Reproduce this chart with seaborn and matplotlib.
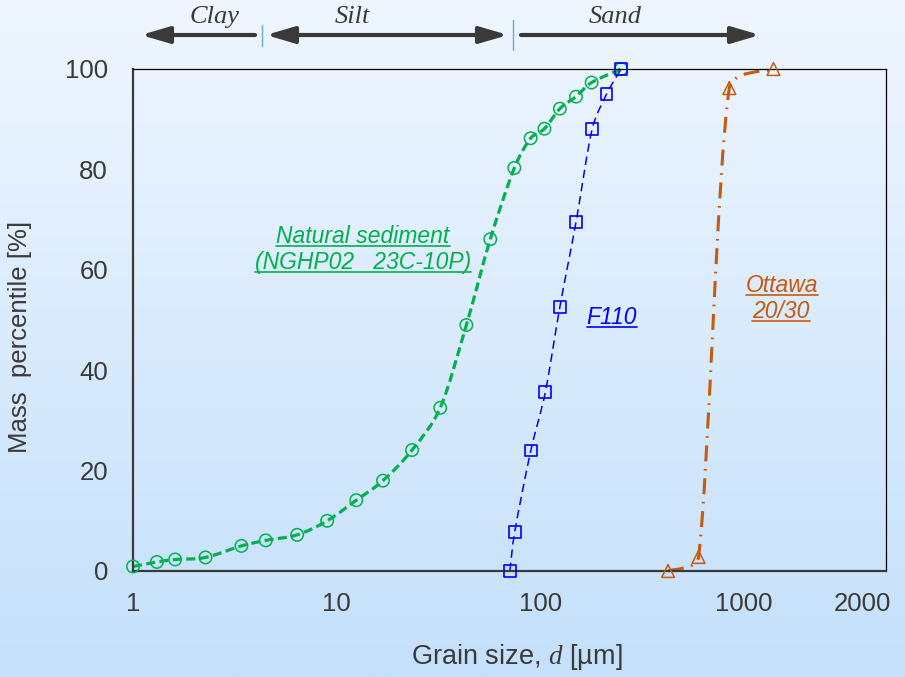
import numpy as np
import matplotlib
matplotlib.use("Agg")
import matplotlib.pyplot as plt
from matplotlib.path import Path
from matplotlib.patches import PathPatch, FancyArrowPatch
from matplotlib.lines import Line2D
from matplotlib.ticker import LogLocator, NullFormatter, FixedLocator
import seaborn as sns

# ---- data: cumulative grain-size distributions ----
natural_d = [1.0, 1.31, 1.61, 2.27, 3.41, 4.49, 6.40, 8.99, 12.5, 16.9, 23.5,
             32.3, 43.4, 56.9, 74.7, 89.8, 105, 125, 150, 179, 250]
natural_pct = [0.9, 1.8, 2.3, 2.7, 5.0, 6.1, 7.2, 10.0, 14.1, 18.0, 24.1,
               32.5, 49.0, 66.1, 80.3, 86.2, 88.1, 92.1, 94.5, 97.3, 100.0]

f110_d = [71, 75, 90, 106, 125, 150, 180, 212, 250]
f110_pct = [0.0, 7.8, 24.0, 35.6, 52.6, 69.5, 88.0, 95.0, 100.0]

ottawa_d = [425, 600, 850, 1400]
ottawa_pct = [0.0, 2.8, 96.2, 100.0]

x_ticks = [1, 10, 100, 1000]
x_tick_labels = ["1", "10", "100", "1000"]
extra_x_label = ("2000", 3850)
y_ticks = [0, 20, 40, 60, 80, 100]

GREEN = "#00b050"
BLUE = "#0000ff"
ORANGE = "#c55a11"
DARK = "#3a3a3a"

sns.set_style("white")
plt.rcParams["font.family"] = ["Liberation Sans", "DejaVu Sans"]
plt.rcParams["mathtext.fontset"] = "custom"
plt.rcParams["mathtext.rm"] = "Liberation Sans"
plt.rcParams["mathtext.it"] = "Liberation Serif:italic"
plt.rcParams["lines.scale_dashes"] = False

W, H = 905, 677
fig = plt.figure(figsize=(W / 100, H / 100), dpi=100)

# vertical gradient behind everything
bg = fig.add_axes([0, 0, 1, 1], zorder=-10)
top_c = np.array([239, 246, 255]) / 255
bot_c = np.array([196, 224, 251]) / 255
t = np.linspace(0, 1, 256)[:, None]
grad = (top_c * (1 - t) + bot_c * t)[:, None, :]
bg.imshow(grad, aspect="auto", extent=[0, 1, 0, 1])
bg.set_axis_off()

L, R, B, T = 133, 886, 571, 69
ax = fig.add_axes([L / W, 1 - B / H, (R - L) / W, (B - T) / H])
ax.set_facecolor("none")
ax.set_xscale("log")
ax.set_xlim(1, 5000)
ax.set_ylim(0, 100)


def smooth_path(xs, ys):
    """Bezier path through the points, Catmull-Rom tangents limited to a
    third of each segment so the curve does not overshoot."""
    p = ax.transData.transform(np.column_stack([xs, ys]))
    n = len(p)
    verts = [p[0]]
    codes = [Path.MOVETO]
    for i in range(n - 1):
        p0 = p[i - 1] if i > 0 else p[i]
        p1, p2 = p[i], p[i + 1]
        p3 = p[i + 2] if i + 2 < n else p[i + 1]
        seg = np.linalg.norm(p2 - p1)
        t1 = (p2 - p0) / 6.0
        t2 = (p3 - p1) / 6.0
        lim = seg / 2.6
        for tv in (t1, t2):
            nv = np.linalg.norm(tv)
            if nv > lim and nv > 0:
                tv *= lim / nv
        verts += [p1 + t1, p2 - t2, p2]
        codes += [Path.CURVE4] * 3
    data = ax.transData.inverted().transform(np.array(verts))
    return Path(data, codes)


def add_curve(xs, ys, color, lw, dashes):
    patch = PathPatch(smooth_path(xs, ys), fill=False, edgecolor=color,
                      linewidth=lw, linestyle=(0, dashes), capstyle="butt",
                      zorder=2, clip_on=False)
    ax.add_patch(patch)


add_curve(natural_d, natural_pct, GREEN, 2.3, (6.5, 3.2))
add_curve(f110_d, f110_pct, BLUE, 1.1, (6.0, 3.6))
add_curve(ottawa_d, ottawa_pct, ORANGE, 2.2, (11.5, 5.5, 1.2, 5.5))

sns.scatterplot(x=natural_d, y=natural_pct, ax=ax, marker="o", s=80,
                facecolors="none", edgecolor=GREEN, linewidth=1.1,
                zorder=4, clip_on=False, legend=False)
sns.scatterplot(x=f110_d, y=f110_pct, ax=ax, marker="s", s=70,
                facecolors="none", edgecolor=BLUE, linewidth=1.2,
                zorder=4, clip_on=False, legend=False)
sns.scatterplot(x=ottawa_d, y=ottawa_pct, ax=ax, marker="^", s=85,
                facecolors="none", edgecolor=ORANGE, linewidth=1.1,
                zorder=4, clip_on=False, legend=False)

# axes frame
for side in ("left", "bottom"):
    ax.spines[side].set_color(DARK)
    ax.spines[side].set_linewidth(1.6)
for side in ("top", "right"):
    ax.spines[side].set_color("black")
    ax.spines[side].set_linewidth(0.9)
    ax.spines[side].set_visible(True)

XPAD = 15
ax.xaxis.set_major_locator(FixedLocator(x_ticks))
ax.set_xticklabels(x_tick_labels)
ax.xaxis.set_minor_locator(LogLocator(base=10, subs=np.arange(2, 10)))
ax.xaxis.set_minor_formatter(NullFormatter())
ax.tick_params(axis="x", which="major", direction="in", length=6, width=1.6,
               color=DARK, labelsize=18.5, labelcolor=DARK, pad=XPAD)
ax.tick_params(axis="x", which="minor", direction="in", length=4, width=0.9,
               color=DARK)
ax.set_yticks(y_ticks)
ax.tick_params(axis="y", length=0, labelsize=18.5, labelcolor=DARK, pad=18)

ax.annotate(extra_x_label[0], xy=(extra_x_label[1], 0),
            xycoords=("data", "axes fraction"), xytext=(0, -XPAD),
            textcoords="offset points", ha="center", va="top",
            fontsize=18.5, color=DARK, annotation_clip=False)

ax.set_xlabel("Grain size, $\\it{d}$ [µm]", fontsize=19.5, color=DARK)
ax.xaxis.label.set_va("center")
ax.xaxis.set_label_coords((517 - L) / (R - L), (B - 657) / (B - T))
ax.set_ylabel("Mass  percentile [%]", fontsize=18.5, color=DARK)
ax.yaxis.label.set_va("center")
ax.yaxis.set_label_coords((20 - L) / (R - L), (B - 337) / (B - T))


def fx(px):
    return px / W


def fy(py):
    return 1 - py / H


# size-class arrows above the plot
arrow_kw = dict(transform=fig.transFigure, mutation_scale=10, lw=3,
                color=DARK, shrinkA=0, shrinkB=0)
head = "head_length=1.7,head_width=0.5"
fig.add_artist(FancyArrowPatch((fx(255), fy(35)), (fx(141), fy(35)),
                               arrowstyle="-|>," + head, **arrow_kw))
fig.add_artist(FancyArrowPatch((fx(266), fy(35)), (fx(508), fy(35)),
                               arrowstyle="<|-|>," + head, **arrow_kw))
fig.add_artist(FancyArrowPatch((fx(521), fy(35)), (fx(760), fy(35)),
                               arrowstyle="-|>," + head, **arrow_kw))
for xs, y0, y1 in ((262, 25, 46), (513, 20, 50)):
    fig.add_artist(Line2D([fx(xs), fx(xs)], [fy(y0), fy(y1)],
                          transform=fig.transFigure, color="#6fa8dc", lw=1.0))

for label, xc in (("Clay", 215), ("Silt", 352), ("Sand", 615)):
    fig.text(fx(xc), fy(17), label, ha="center", va="center",
             family="Liberation Serif", style="italic", fontsize=19,
             color=DARK)

# underlined series labels
labels = [
    ("Natural sediment", 363, 243, GREEN),
    ("(NGHP02   23C-10P)", 363, 269, GREEN),
    ("F110", 612, 324, BLUE),
    ("Ottawa", 782, 292, ORANGE),
    ("20/30", 781, 318, ORANGE),
]
texts = []
for s, xc, yb, c in labels:
    txt = fig.text(fx(xc), fy(yb), s, ha="center", va="baseline",
                   style="italic", fontsize=16.5, color=c)
    texts.append((txt, yb, c))

fig.canvas.draw()
renderer = fig.canvas.get_renderer()
for txt, yb, c in texts:
    bb = txt.get_window_extent(renderer)
    fig.add_artist(Line2D([bb.x0 / W, bb.x1 / W], [fy(yb + 3), fy(yb + 3)],
                          transform=fig.transFigure, color=c, lw=1.2))

fig.savefig("out.png", dpi=100)
